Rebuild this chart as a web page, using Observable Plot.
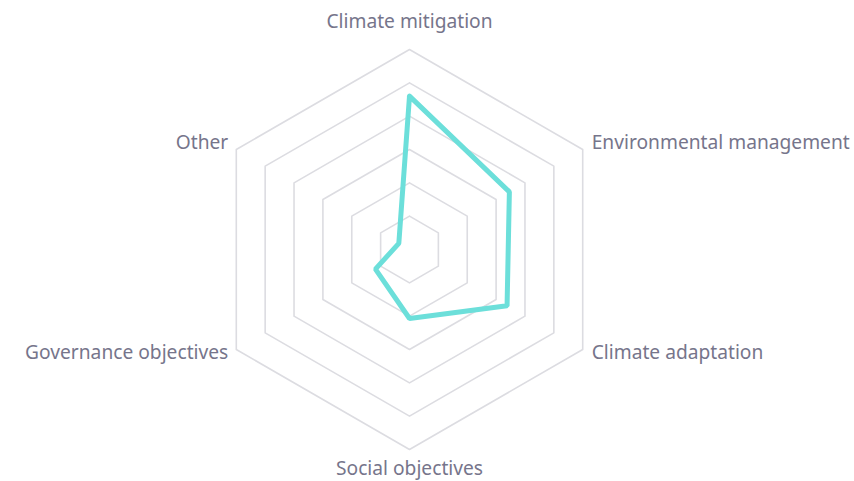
<!DOCTYPE html>
<html>
<head>
<meta charset="utf-8">
<script src="https://cdn.jsdelivr.net/npm/d3@7"></script>
<script src="https://cdn.jsdelivr.net/npm/@observablehq/plot@0.6"></script>
<style>
  html, body { margin: 0; padding: 0; background: #ffffff; }
  #chart svg { display: block; }
</style>
</head>
<body>
<div id="chart"></div>
<script>
// Categories (clockwise from top)
const categories = [
  "Climate mitigation",
  "Environmental management",
  "Climate adaptation",
  "Social objectives",
  "Governance objectives",
  "Other"
];
// Series values (ring units, 0–6)
const values = [4.6, 3.46, 3.38, 2.07, 1.18, 0.37];
// Grid ring levels
const levels = [1, 2, 3, 4, 5, 6];
const maxLevel = 6;

const W = 854, H = 481, CX = 409, CY = 249, R = 200;
const n = categories.length;
const angle = i => Math.PI / 2 - (2 * Math.PI * i) / n;
const px = (i, v) => (v / maxLevel) * Math.cos(angle(i));
const py = (i, v) => (v / maxLevel) * Math.sin(angle(i));

// Grid rings
const gridData = [];
for (const L of levels) {
  for (let k = 0; k <= n; k++) {
    const i = k % n;
    gridData.push({level: L, x: px(i, L), y: py(i, L)});
  }
}
// Series polygon
const seriesData = [];
for (let k = 0; k <= n; k++) {
  const i = k % n;
  seriesData.push({x: px(i, values[i]), y: py(i, values[i])});
}
// Labels
const labelData = categories.map((c, i) => {
  const cosA = Math.cos(angle(i)), sinA = Math.sin(angle(i));
  let anchor = "middle", dx = 0, dy = 0;
  if (Math.abs(cosA) < 0.01) {
    dy = sinA > 0 ? -28 : 19;
  } else {
    anchor = cosA > 0 ? "start" : "end";
    dx = cosA > 0 ? 9 : -8;
    dy = sinA > 0 ? -7 : 3;
  }
  return {label: c, x: px(i, maxLevel), y: py(i, maxLevel), anchor, dx, dy};
});

const fontFamily = "'Noto Sans', sans-serif";
const textMarks = labelData.map(d =>
  Plot.text([d], {x: "x", y: "y", text: "label", textAnchor: d.anchor, dx: d.dx, dy: d.dy,
    fontSize: 19.2, fill: "#76758b", fontFamily})
);

const chart = Plot.plot({
  width: W,
  height: H,
  margin: 0,
  x: {domain: [-CX / R, (W - CX) / R], range: [0, W], axis: null},
  y: {domain: [-(H - CY) / R, CY / R], range: [H, 0], axis: null},
  style: {background: "#ffffff", fontFamily},
  marks: [
    Plot.line(gridData, {x: "x", y: "y", z: "level", stroke: "#dcdce1", strokeWidth: 1.6}),
    Plot.line(seriesData, {x: "x", y: "y", stroke: "#6cdfda", strokeWidth: 5, strokeLinejoin: "miter"}),
    ...textMarks
  ]
});
document.getElementById("chart").appendChild(chart);
</script>
</body>
</html>
